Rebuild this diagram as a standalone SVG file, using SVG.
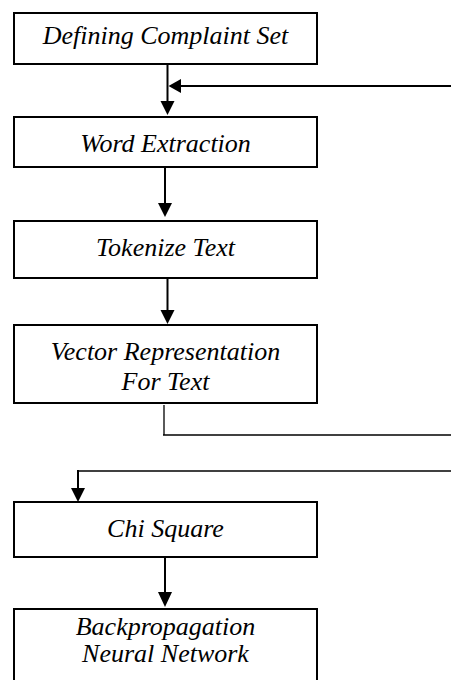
<svg xmlns="http://www.w3.org/2000/svg" width="451" height="680" viewBox="0 0 451 680">
<style>
.box{fill:#fff;stroke:#000;stroke-width:2}
.t{font-family:"Liberation Serif","Times New Roman",serif;font-style:italic;font-size:26px;fill:#000;text-anchor:middle}
.c{fill:none;stroke:#000;stroke-width:2}
.thin{fill:none;stroke:#000;stroke-width:1.3}
.ah{fill:#000}
</style>
<rect width="451" height="680" fill="#fff"/>
<g id="connectors">
<line class="c" x1="167.5" y1="64" x2="167.5" y2="103"/>
<polygon class="ah" points="160.5,101 174.5,101 167.5,115"/>
<line class="c" x1="180" y1="86" x2="451" y2="86"/>
<polygon class="ah" points="168.5,86 181,79 181,93"/>
<line class="c" x1="165" y1="167" x2="165" y2="205"/>
<polygon class="ah" points="158,203 172,203 165,217"/>
<line class="c" x1="167.5" y1="278" x2="167.5" y2="312"/>
<polygon class="ah" points="160.5,310 174.5,310 167.5,324"/>
<line class="thin" x1="164" y1="405" x2="164" y2="435"/>
<line class="thin" x1="163" y1="435" x2="451" y2="435"/>
<line class="thin" x1="78" y1="471" x2="451" y2="471"/>
<line class="c" x1="78" y1="470" x2="78" y2="490"/>
<polygon class="ah" points="71,488 85,488 78,502"/>
<line class="c" x1="165" y1="558" x2="165" y2="594"/>
<polygon class="ah" points="158,592 172,592 165,607"/>
</g>
<g id="n1"><rect class="box" x="14" y="13" width="303" height="51"/><text class="t" x="165.5" y="44">Defining Complaint Set</text></g>
<g id="n2"><rect class="box" x="14" y="117" width="303" height="50"/><text class="t" x="165.5" y="152">Word Extraction</text></g>
<g id="n3"><rect class="box" x="14" y="221" width="303" height="57"/><text class="t" x="165.5" y="256">Tokenize Text</text></g>
<g id="n4"><rect class="box" x="14" y="325" width="303" height="78"/><text class="t" x="165.5" y="360">Vector Representation</text><text class="t" x="165.5" y="390">For Text</text></g>
<g id="n5"><rect class="box" x="14" y="502" width="303" height="55"/><text class="t" x="165.5" y="537">Chi Square</text></g>
<g id="n6"><rect class="box" x="14" y="609" width="303" height="80"/><text class="t" x="165.5" y="635">Backpropagation</text><text class="t" x="165.5" y="662">Neural Network</text></g>
</svg>
